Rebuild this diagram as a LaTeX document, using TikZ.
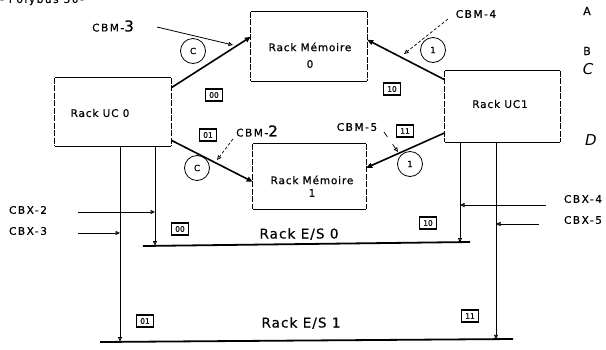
\documentclass[tikz,border=0pt]{standalone}
\usepackage{fontspec}
\setmainfont{DejaVu Sans}
\newfontfamily\labfont[LetterSpace=8,FakeBold=0.6]{DejaVu Sans}
\newfontfamily\widefont[LetterSpace=15,FakeBold=0.6]{DejaVu Sans}
\newfontfamily\tagfont[FakeBold=0.6]{DejaVu Sans}
\usetikzlibrary{arrows.meta}
\newcommand\rackframe[1]{%
  \draw[line width=1.1pt] (#1.north west) -- (#1.north east);
  \draw[line width=1.1pt] (#1.south west) -- (#1.south east);
  \draw[line width=0.7pt, dash pattern=on 6pt off 1.5pt] (#1.north west) -- (#1.south west);
  \draw[line width=0.7pt, dash pattern=on 6pt off 1.5pt] (#1.north east) -- (#1.south east);}
\begin{document}
\begin{tikzpicture}[x=1pt,y=-1pt,
  rack/.style={inner sep=0pt},
  racktxt/.style={font=\labfont\fontsize{10.5}{11}\selectfont, inner sep=0pt},
  estxt/.style={font=\labfont\fontsize{13.5}{14}\selectfont, inner sep=0pt},
  lab/.style={font=\widefont\fontsize{10.5}{11}\selectfont, inner sep=0pt},
  tag/.style={draw, line width=1.1pt, font=\tagfont\fontsize{7.5}{8}\selectfont, inner sep=1pt, minimum width=17pt, minimum height=12pt},
  circ/.style={draw, circle, line width=0.8pt, minimum size=25pt, inner sep=0pt, font=\tagfont\fontsize{8.5}{9}\selectfont},
  tipA/.tip={Triangle[length=6pt,width=5pt,fill=gray!45]},
  tipB/.tip={Triangle[length=4.5pt,width=4pt,fill=gray!45]},
  main/.style={line width=1.6pt, -tipA},
  ptr/.style={line width=0.7pt, densely dashed, -tipB},
  drop/.style={line width=0.9pt, -tipB},
  busline/.style={line width=1.8pt},
  side/.style={font=\tagfont\fontsize{11}{12}\selectfont, inner sep=0pt}
]
\useasboundingbox (0,0) rectangle (606,349);

% header (cut off at top, as in the reference)
\node[lab, anchor=west] (hdr) at (0,0) {- Polybus 30-};

% racks
\node[rack, minimum width=116pt, minimum height=69pt] (mem0) at (309,46.5) {};
\rackframe{mem0}
\node[racktxt] (mem0t) at (310,47) {Rack Mémoire};
\node[racktxt] (mem0n) at (310,64) {0};

\node[rack, minimum width=116pt, minimum height=68pt] (uc0) at (113,112) {};
\rackframe{uc0}
\node[racktxt] (uc0t) at (100,113) {Rack UC 0};

\node[rack, minimum width=115pt, minimum height=71pt] (uc1) at (502.5,106.5) {};
\rackframe{uc1}
\node[racktxt] (uc1t) at (500,104) {Rack UC1};

\node[rack, minimum width=113pt, minimum height=65pt] (mem1) at (309.5,176.5) {};
\rackframe{mem1}
\node[racktxt] (mem1t) at (312,180) {Rack Mémoire};
\node[racktxt] (mem1n) at (312,193) {1};

% main CBM links
\draw[main] ([yshift=-10pt]uc0.north east) -- ([yshift=-25pt]mem0.north west);
\draw[main] ([yshift=-9pt]uc1.north west) -- ([yshift=-28pt]mem0.north east);
\draw[main] ([yshift=6pt]uc0.south east) -- ([yshift=-38pt]mem1.north west);
\draw[main] ([yshift=-62pt]uc1.north west) -- ([yshift=-24pt]mem1.north east);

% CBM labels and pointers
\node[lab] (cbm3) at (113,26) {CBM-{\fontsize{15}{15}\selectfont 3}};
\coordinate (c3a) at (157,27);
\coordinate (c3b) at (233,45);
\draw[line width=0.8pt, -tipB] (c3a) -- (c3b);

\node[lab] (cbm4) at (476,14) {CBM-4};
\coordinate (c4a) at (448,19);
\coordinate (c4b) at (404,54);
\draw[ptr] (c4a) -- (c4b);

\node[lab] (cbm2) at (257,131) {CBM-{\fontsize{15}{15}\selectfont 2}};
\coordinate (c2a) at (233,139);
\coordinate (c2b) at (217,160);
\draw[ptr] (c2a) -- (c2b);

\node[lab] (cbm5) at (357,127) {CBM-5};
\coordinate (c5a) at (384,132);
\coordinate (c5b) at (398,152);
\draw[line width=0.7pt, dash pattern=on 6pt off 9pt, -tipB] (c5a) -- (c5b);

% circles
\node[circ] (k1) at (193,51) {C};
\node[circ] (k2) at (433,50) {1};
\node[circ] (k3) at (197,168) {C};
\node[circ] (k4) at (410,164) {1};

% address tags
\node[tag] (t00a) at (214,95) {00};
\node[tag] (t10a) at (392,89) {10};
\node[tag] (t01a) at (208,135) {01};
\node[tag] (t11a) at (405,131) {11};
\node[tag] (t00b) at (180,229) {00};
\node[tag] (t10b) at (428,223) {10};
\node[tag] (t01b) at (145,321) {01};
\node[tag] (t11b) at (470,316) {11};

% I/O buses
\coordinate (b0l) at (143,246);
\coordinate (b0r) at (470,242);
\draw[busline] (b0l) -- (b0r);
\node[estxt] (es0) at (299,234) {Rack E/S 0};

\coordinate (b1l) at (100,342);
\coordinate (b1r) at (513,339);
\draw[busline] (b1l) -- (b1r);
\node[estxt] (es1) at (301,323) {Rack E/S 1};

% drops
\coordinate (d1) at (155,245.5);
\coordinate (d2) at (120,341.5);
\coordinate (d3) at (460,242.5);
\coordinate (d4) at (496,339.3);
\draw[drop] (uc0.south -| d1) -- (d1);
\draw[drop] (uc0.south -| d2) -- (d2);
\draw[drop] (uc1.south -| d3) -- (d3);
\draw[drop] (uc1.south -| d4) -- (d4);

% CBX inputs
\node[lab] (cbx2) at (28,210) {CBX-2};
\node[lab] (cbx3) at (28,231) {CBX-3};
\node[lab] (cbx4) at (583,199) {CBX-4};
\node[lab] (cbx5) at (583,220) {CBX-5};
\coordinate (x2) at (78,212);
\coordinate (x3) at (78,233);
\coordinate (x4) at (546,205);
\coordinate (x5) at (539,224);
\draw[drop] (x2) -- (x2 -| d1);
\draw[drop] (x3) -- (x3 -| d2);
\draw[drop] (x4) -- (x4 -| d3);
\draw[drop] (x5) -- (x5 -| d4);

% margin letters
\node[side] (la) at (587,11) {A};
\node[side] (lb) at (587,51) {B};
\node[side, font=\fontsize{15}{15}\selectfont] (lc) at (588,69) {\itshape C};
\node[side, font=\fontsize{15}{15}\selectfont] (ld) at (591,140) {\itshape D};
\end{tikzpicture}
\end{document}
